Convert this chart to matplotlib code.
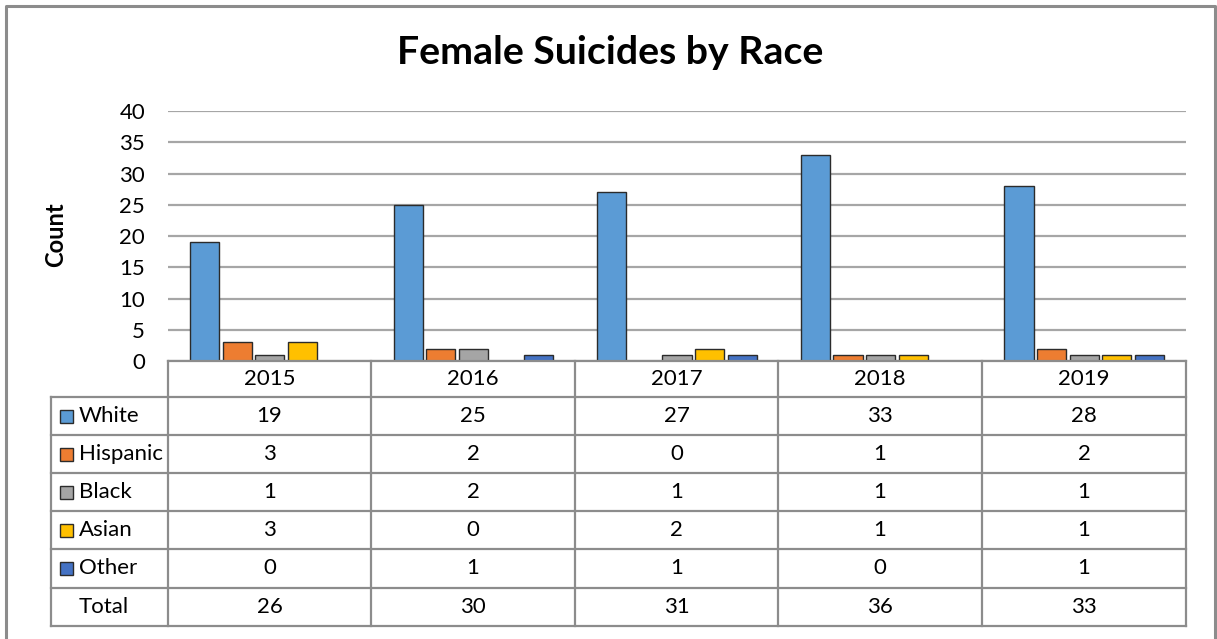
import numpy as np
import matplotlib.pyplot as plt
from matplotlib.patches import Rectangle

plt.rcParams['font.family'] = ['Lato', 'DejaVu Sans']

years = ["2015", "2016", "2017", "2018", "2019"]
races = ["White", "Hispanic", "Black", "Asian", "Other"]
white = [19, 25, 27, 33, 28]
hispanic = [3, 2, 0, 1, 2]
black = [1, 2, 1, 1, 1]
asian = [3, 0, 2, 1, 1]
other = [0, 1, 1, 0, 1]
colors = ["#5B9BD5", "#ED7D31", "#A5A5A5", "#FFC000", "#4472C4"]

series = [white, hispanic, black, asian, other]
totals = [sum(v) for v in zip(*series)]

W, H = 1217, 639
fig = plt.figure(figsize=(W / 100, H / 100), dpi=100)

# pixel box of the plot area
px_l, px_r, px_t, px_b = 168, 1186, 111, 361
ax = fig.add_axes([px_l / W, 1 - px_b / H, (px_r - px_l) / W, (px_b - px_t) / H])

grid_c = "#A6A6A6"
line_c = "#8C8C8C"
fs = 16

x = np.arange(len(years))
slot = 0.16
bw = 0.143
for i, (vals, c) in enumerate(zip(series, colors)):
    ax.bar(x + (i - 2) * slot, vals, width=bw, color=c, edgecolor="#2B2B2B",
           linewidth=1.0, zorder=3)

ax.set_xlim(-0.5, len(years) - 0.5)
ax.set_ylim(0, 40)
ax.set_yticks(range(0, 41, 5))
ax.yaxis.grid(True, color=grid_c, linewidth=1.6, zorder=0)
ax.set_xticks([])
ax.tick_params(axis="y", length=0, labelsize=fs, pad=16.5)
for s in ax.spines.values():
    s.set_visible(False)
fig.text(56 / W, 1 - 235 / H, "Count", rotation=90, ha="center", va="center",
         fontsize=17, fontweight="bold")

# overlay in pixel coordinates for title, table and frame
ov = fig.add_axes([0, 0, 1, 1], zorder=-1)
ov.set_xlim(0, W)
ov.set_ylim(H, 0)
ov.axis("off")
ax.set_zorder(1)
ax.patch.set_alpha(0)

ov.plot([6, 6, 1215, 1215], [H + 5, 6, 6, H + 5], color="#8C8C8C", lw=2.2)
fig.text(610 / W, 1 - 53 / H, "Female Suicides by Race", ha="center", va="center",
         fontsize=28.3, fontweight="bold")

# data table under the bars
tab = fig.add_axes([0, 0, 1, 1], zorder=2)
tab.set_xlim(0, W)
tab.set_ylim(H, 0)
tab.axis("off")
tab.patch.set_alpha(0)

col_x = [168, 371, 575, 778, 982, 1186]
row_y = [361, 397, 435, 473, 511, 549, 588, 626]
left_x = 51
lw = 1.6
tab.plot([col_x[0], col_x[-1]], [row_y[0]] * 2, color=line_c, lw=lw)
for yy in row_y[1:]:
    tab.plot([left_x, col_x[-1]], [yy, yy], color=line_c, lw=lw)
for xx in col_x:
    tab.plot([xx, xx], [row_y[0], row_y[-1]], color=line_c, lw=lw)
tab.plot([left_x, left_x], [row_y[1], row_y[-1]], color=line_c, lw=lw)

for j, yr in enumerate(years):
    cx = (col_x[j] + col_x[j + 1]) / 2
    tab.text(cx, (row_y[0] + row_y[1]) / 2, yr, ha="center", va="center", fontsize=fs)

rows = list(zip(races, series)) + [("Total", totals)]
for r, (name, vals) in enumerate(rows):
    cy = (row_y[r + 1] + row_y[r + 2]) / 2
    if r < len(races):
        tab.add_patch(Rectangle((59.5, cy - 6.5), 13, 13, facecolor=colors[r],
                                edgecolor="#2B2B2B", lw=1.0))
    tab.text(79, cy, name, ha="left", va="center", fontsize=fs)
    for j, v in enumerate(vals):
        cx = (col_x[j] + col_x[j + 1]) / 2
        tab.text(cx, cy, str(v), ha="center", va="center", fontsize=fs)

fig.savefig("out.png", dpi=100, facecolor="white")
